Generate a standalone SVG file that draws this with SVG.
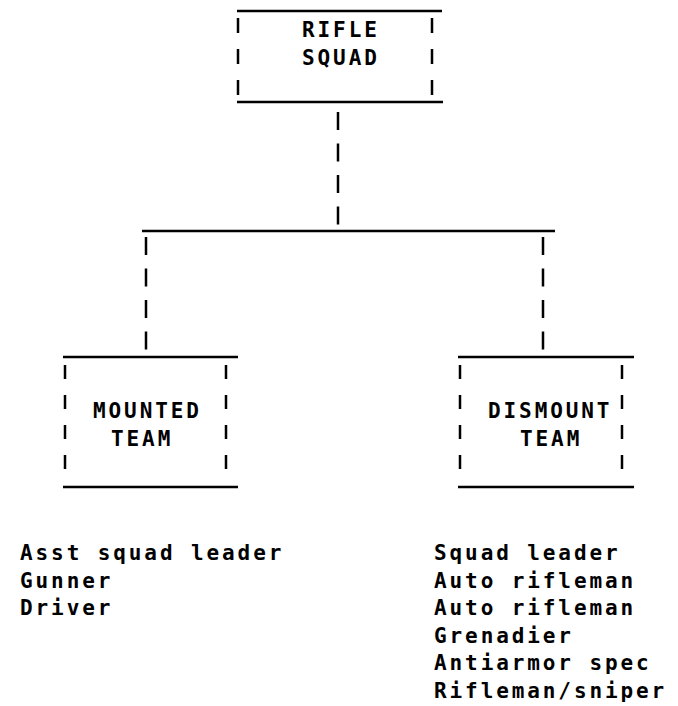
<svg xmlns="http://www.w3.org/2000/svg" width="678" height="706" viewBox="0 0 678 706">
<style>
.t{font-family:"DejaVu Sans Mono","Liberation Mono",monospace;font-size:21px;font-weight:bold;fill:#000;letter-spacing:2.9px}
.h{stroke:#000;stroke-width:2.5;fill:none}
.d1{stroke:#000;stroke-width:2.5;fill:none;stroke-dasharray:15 16}
.d2{stroke:#000;stroke-width:2.5;fill:none;stroke-dasharray:18 13.5}
.d3{stroke:#000;stroke-width:2.5;fill:none;stroke-dasharray:14 16}
</style>
<rect width="678" height="706" fill="#fff"/>
<g id="rifle-squad">
<line class="h" x1="237" y1="11" x2="442" y2="11"/>
<line class="h" x1="237" y1="102" x2="443" y2="102"/>
<line class="d1" x1="238" y1="18" x2="238" y2="95"/>
<line class="d1" x1="432" y1="18" x2="432" y2="95"/>
<text class="t" x="302" y="37">RIFLE</text>
<text class="t" x="302" y="65">SQUAD</text>
</g>
<g id="connectors">
<line class="d2" x1="338" y1="112" x2="338" y2="226"/>
<line class="h" x1="142" y1="231" x2="555" y2="231"/>
<line class="d2" x1="146" y1="237" x2="146" y2="352"/>
<line class="d2" x1="543" y1="237" x2="543" y2="352"/>
</g>
<g id="mounted-team">
<line class="h" x1="63" y1="357" x2="238" y2="357"/>
<line class="h" x1="63" y1="487" x2="238" y2="487"/>
<line class="d3" x1="65" y1="365" x2="65" y2="482"/>
<line class="d3" x1="226" y1="365" x2="226" y2="482"/>
<text class="t" x="93" y="418">MOUNTED</text>
<text class="t" x="111" y="446">TEAM</text>
</g>
<g id="dismount-team">
<line class="h" x1="458" y1="357" x2="634" y2="357"/>
<line class="h" x1="458" y1="487" x2="634" y2="487"/>
<line class="d3" x1="460" y1="365" x2="460" y2="482"/>
<line class="d3" x1="622" y1="365" x2="622" y2="482"/>
<text class="t" x="488" y="418">DISMOUNT</text>
<text class="t" x="520" y="446">TEAM</text>
</g>
<g id="mounted-list">
<text class="t" x="20" y="560">Asst squad leader</text>
<text class="t" x="20" y="587.5">Gunner</text>
<text class="t" x="20" y="615">Driver</text>
</g>
<g id="dismount-list">
<text class="t" x="434" y="560">Squad leader</text>
<text class="t" x="434" y="587.5">Auto rifleman</text>
<text class="t" x="434" y="615">Auto rifleman</text>
<text class="t" x="434" y="642.5">Grenadier</text>
<text class="t" x="434" y="670">Antiarmor spec</text>
<text class="t" x="434" y="697.5">Rifleman/sniper</text>
</g>
</svg>
